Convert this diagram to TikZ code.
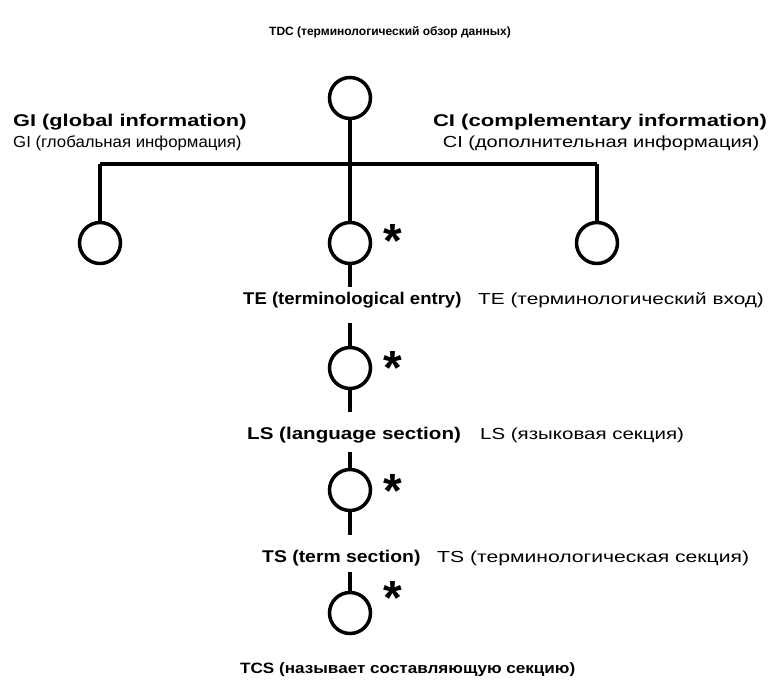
\documentclass[tikz,border=0pt]{standalone}
\usepackage{graphicx}
\usepackage{fontspec}
\setmainfont{Liberation Sans}
\newcommand{\sx}[2]{\scalebox{#1}[1]{#2}}
\begin{document}
\begin{tikzpicture}[x=1pt,y=-1pt,
  circ/.style={circle,draw,line width=3.5pt,minimum size=41pt,inner sep=0pt},
  conn/.style={line width=3.5pt},
  entxt/.style={font=\fontsize{17}{20}\selectfont\bfseries,inner sep=0pt},
  rutxt/.style={font=\fontsize{16}{19}\selectfont,inner sep=0pt},
  startxt/.style={font=\fontsize{48}{48}\selectfont\bfseries,inner sep=0pt,anchor=base}]
\useasboundingbox (0,0) rectangle (778,687);
% title
\node[font=\fontsize{12}{15}\selectfont\bfseries,inner sep=0pt] (title) at (390,32) {TDC (терминологический обзор данных)};
% circles
\node[circ] (top) at (350,98) {};
\node[circ] (gi) at (100,243) {};
\node[circ] (te) at (350,243) {};
\node[circ] (ci) at (597,243) {};
\node[circ] (ls) at (350,368) {};
\node[circ] (ts) at (350,490) {};
\node[circ] (tcs) at (350,613) {};
% stars
\node[startxt] (s1) at (393,257) {*};
\node[startxt] (s2) at (393,384) {*};
\node[startxt] (s3) at (393,507) {*};
\node[startxt] (s4) at (393,614) {*};
% labels
\node[entxt,anchor=west] (gien) at (13,122) {\sx{1.28}{GI (global information)}};
\node[rutxt,anchor=west] (giru) at (13,143) {\sx{1.05}{GI (глобальная информация)}};
\node[entxt] (cien) at (600,122) {\sx{1.3}{CI (complementary information)}};
\node[rutxt] (ciru) at (601,143) {\sx{1.25}{CI (дополнительная информация)}};
\node[entxt,anchor=west] (teen) at (243,300) {\sx{1.09}{TE (terminological entry)}};
\node[rutxt,anchor=west] (teru) at (478,300) {\sx{1.3}{TE (терминологический вход)}};
\node[entxt,anchor=west] (lsen) at (247,435) {\sx{1.21}{LS (language section)}};
\node[rutxt,anchor=west] (lsru) at (480,435) {\sx{1.28}{LS (языковая секция)}};
\node[entxt,anchor=west] (tsen) at (262,558) {\sx{1.14}{TS (term section)}};
\node[rutxt,anchor=west] (tsru) at (437,558) {\sx{1.32}{TS (терминологическая секция)}};
\node[font=\fontsize{15}{18}\selectfont\bfseries,inner sep=0pt,anchor=west] (tcstxt) at (240,670) {\sx{1.14}{TCS (называет составляющую секцию)}};
% connector points
\coordinate (jL) at (100,164);
\coordinate (jR) at (597,164);
\coordinate (a1) at (350,287);
\coordinate (a2) at (350,323);
\coordinate (b1) at (350,412);
\coordinate (b2) at (350,452);
\coordinate (c1) at (350,535);
\coordinate (c2) at (350,572);
% connectors
\draw[conn] (top.south) -- (te.north);
\draw[conn] (jL) -- (jR);
\draw[conn] (jL) -- (gi.north);
\draw[conn] (jR) -- (ci.north);
\draw[conn] (te.south) -- (a1);
\draw[conn] (a2) -- (ls.north);
\draw[conn] (ls.south) -- (b1);
\draw[conn] (b2) -- (ts.north);
\draw[conn] (ts.south) -- (c1);
\draw[conn] (c2) -- (tcs.north);
\end{tikzpicture}
\end{document}
